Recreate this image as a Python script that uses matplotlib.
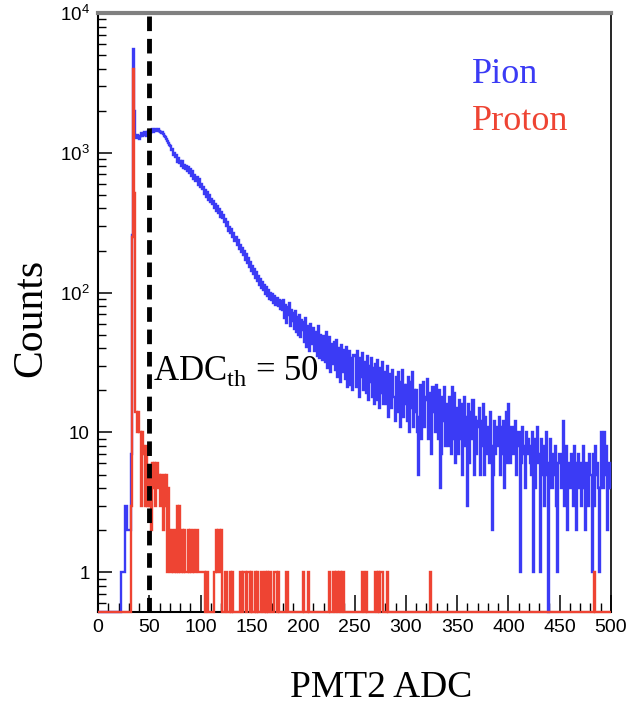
import numpy as np
import matplotlib
matplotlib.use("Agg")
import matplotlib.pyplot as plt
from matplotlib.ticker import MultipleLocator, LogLocator, NullFormatter

# ---------------- data (counts per 1-ADC bin, ADC 0..499) ----------------
pion_counts = [
    0, 0, 0, 0, 0, 0, 0, 0, 0, 0,
    0, 0, 0, 0, 0, 0, 0, 0, 0, 0,
    0, 0, 1, 1, 1, 1, 3, 3, 2, 2,
    2, 2, 7, 260, 5500, 2000, 1300, 1280, 1350, 1300,
    1260, 1330, 1390, 1310, 1350, 1420, 1370, 1330, 1400, 1440,
    1410, 1380, 1450, 1470, 1420, 1460, 1490, 1440, 1470, 1430,
    1420, 1390, 1410, 1360, 1330, 1290, 1260, 1210, 1170, 1130,
    1120, 1040, 1060, 960, 990, 930, 960, 860, 920, 840,
    880, 800, 870, 780, 820, 760, 810, 740, 790, 720,
    760, 680, 740, 650, 690, 630, 670, 590, 650, 570,
    600, 550, 570, 510, 545, 480, 525, 460, 500, 445,
    470, 430, 455, 400, 430, 385, 415, 370, 395, 350,
    380, 340, 360, 320, 335, 300, 320, 275, 295, 265,
    285, 250, 265, 235, 250, 220, 238, 205, 220, 195,
    210, 185, 198, 172, 188, 162, 176, 152, 165, 144,
    155, 136, 148, 127, 140, 121, 132, 114, 125, 108,
    120, 104, 114, 98, 109, 94, 104, 90, 100, 88,
    98, 85, 95, 82, 91, 80, 89, 77, 87, 75,
    88, 66, 82, 61, 79, 69, 84, 58, 75, 63,
    72, 55, 74, 52, 67, 50, 69, 48, 64, 54,
    62, 44, 66, 41, 58, 47, 38, 60, 43, 51,
    56, 38, 52, 35, 58, 34, 50, 39, 33, 49,
    49, 32, 52, 29, 44, 48, 27, 43, 31, 38,
    44, 28, 46, 25, 40, 37, 23, 42, 27, 36,
    39, 24, 41, 21, 35, 38, 22, 34, 20, 36,
    35, 21, 38, 24, 18, 34, 25, 37, 20, 31,
    32, 19, 35, 17, 30, 23, 34, 18, 29, 16,
    31, 17, 33, 21, 15, 29, 19, 32, 16, 27,
    27, 16, 30, 13, 26, 20, 15, 28, 18, 12,
    25, 14, 27, 17, 11, 23, 28, 13, 22, 16,
    22, 12, 25, 10, 23, 15, 27, 11, 20, 14,
    20, 10, 5, 13, 22, 9, 19, 23, 11, 17,
    18, 24, 9, 19, 12, 7, 21, 14, 10, 22,
    17, 9, 20, 4, 7, 18, 12, 21, 8, 14,
    16, 8, 18, 10, 7, 21, 9, 19, 6, 14,
    15, 7, 17, 9, 16, 5, 13, 18, 8, 13,
    3, 16, 6, 14, 9, 17, 5, 13, 7, 12,
    11, 15, 5, 12, 8, 16, 5, 13, 9, 7,
    11, 6, 14, 8, 2, 5, 12, 7, 11, 8,
    10, 13, 5, 11, 7, 12, 4, 9, 14, 6,
    16, 10, 6, 11, 7, 9, 12, 5, 8, 10,
    10, 1, 6, 11, 7, 8, 4, 10, 7, 9,
    8, 6, 5, 10, 1, 9, 4, 7, 11, 6,
    7, 1, 9, 5, 8, 3, 6, 10, 5, 0,
    6, 9, 4, 7, 5, 8, 3, 1, 6, 7,
    7, 4, 6, 12, 3, 5, 8, 2, 6, 5,
    4, 7, 5, 3, 8, 6, 2, 5, 7, 4,
    6, 3, 5, 8, 4, 2, 6, 5, 3, 7,
    5, 1, 7, 3, 8, 5, 6, 4, 1, 4,
    10, 6, 4, 10, 5, 8, 2, 4, 6, 4,
]

# proton: contiguous region starting at ADC 32
proton_low_start = 32
proton_low_counts = [
    3, 250, 4000, 520, 14, 14, 10, 14, 10, 10,      # 32-41
    3, 10, 8, 7, 3, 8, 3, 5, 3, 5,                  # 42-51
    2, 6, 4, 6, 3, 6, 4, 5, 3, 5,                   # 52-61
    4, 2, 5, 3, 5, 1, 4, 2, 1, 1,                   # 62-71
    2, 1, 1, 2, 1, 3, 1, 3, 1, 1,                   # 72-81
    2, 1, 2, 1, 1, 1, 2, 1, 2, 1,                   # 82-91
    1, 2, 1, 1, 2, 1, 1, 1, 1, 1,                   # 92-101
    1, 1, 0, 1, 1,                                  # 102-106
]
# proton: isolated entries further out
proton_high_bins = [113, 114, 115, 116, 117, 118, 119, 120,
                    124, 125, 129, 131, 138, 139, 141, 142, 143,
                    145, 146, 147, 149, 153, 155, 159, 160,
                    163, 165, 167, 168, 172, 173, 175, 183, 184,
                    200, 205, 225, 229, 230, 232, 233, 235, 236,
                    238, 239, 257, 258, 261, 270, 271, 273, 275,
                    276, 277, 282, 324, 483]
proton_high_counts = [1, 1, 2, 1, 2, 2, 1, 2,
                      1, 1, 1, 1, 1, 1, 1, 1, 1,
                      1, 1, 1, 1, 1, 1, 1, 1,
                      1, 1, 1, 1, 1, 1, 1, 1, 1,
                      1, 1, 1, 1, 1, 1, 1, 1, 1,
                      1, 1, 1, 1, 1, 1, 1, 1, 1,
                      1, 1, 1, 1, 1]

threshold = 50
xticks = [0, 50, 100, 150, 200, 250, 300, 350, 400, 450, 500]
yticks = [1, 10, 100, 1000, 10000]
ytick_labels = ["1", "10", r"$\mathsf{10^{2}}$", r"$\mathsf{10^{3}}$", r"$\mathsf{10^{4}}$"]

# ---------------- style ----------------
plt.rcParams["font.family"] = ["Liberation Sans", "DejaVu Sans"]
plt.rcParams["mathtext.fontset"] = "custom"
plt.rcParams["mathtext.rm"] = "Liberation Serif"
plt.rcParams["mathtext.sf"] = "Liberation Sans"

BLUE = "#3b3bf5"
RED = "#ee4433"
SERIF = ["Liberation Serif", "DejaVu Serif"]

W, H = 629, 706
fig = plt.figure(figsize=(W / 100, H / 100), dpi=100)
ax = fig.add_axes([98 / W, 1 - 612 / H, (611 - 98) / W, (612 - 13) / H])

ymin, ymax = 0.52, 1e4
edges = np.arange(0, 501, 1)

pion = np.array(pion_counts, dtype=float)
proton = np.zeros(500)
proton[proton_low_start:proton_low_start + len(proton_low_counts)] = proton_low_counts
proton[np.array(proton_high_bins)] = proton_high_counts

ax.stairs(np.maximum(pion, ymin), edges, baseline=None, color=BLUE,
          lw=1.7, zorder=3, clip_on=False)
ax.stairs(np.maximum(proton, ymin), edges, baseline=None, color=RED,
          lw=1.7, zorder=4, clip_on=False)

ax.axvline(threshold, color="black", lw=3.5, dashes=(3.0, 1.6), zorder=5)

ax.set_yscale("log")
ax.set_xlim(0, 500)
ax.set_ylim(ymin, ymax)

ax.set_xticks(xticks)
ax.set_xticklabels([str(v) for v in xticks])
ax.xaxis.set_minor_locator(MultipleLocator(10))
ax.set_yticks(yticks)
ax.set_yticklabels(ytick_labels)
ax.yaxis.set_minor_locator(LogLocator(base=10, subs=np.arange(2, 10)))
ax.yaxis.set_minor_formatter(NullFormatter())

ax.tick_params(axis="x", which="major", direction="in", length=12, width=1.1,
               labelsize=14, pad=5, top=False)
ax.tick_params(axis="x", which="minor", direction="in", length=6.5, width=1.0, top=False)
ax.tick_params(axis="y", which="major", direction="in", length=10, width=1.1,
               labelsize=13.5, pad=6, right=False)
ax.tick_params(axis="y", which="minor", direction="in", length=5.5, width=1.0, right=False)

for side in ["left", "bottom"]:
    ax.spines[side].set_linewidth(1.5)
    ax.spines[side].set_color("black")
ax.spines["right"].set_linewidth(1.2)
ax.spines["right"].set_color("black")
ax.spines["top"].set_linewidth(3.0)
ax.spines["top"].set_color("#808080")

# ---------------- texts ----------------
fig.text(31 / W, 1 - 318 / H, "Counts", rotation=90, ha="center", va="center",
         fontsize=30, family=SERIF)
fig.text(381 / W, 1 - 697 / H, "PMT2 ADC", ha="center", va="baseline",
         fontsize=27, family=SERIF)
fig.text(153 / W, 1 - 380 / H, r"ADC$_{\mathrm{th}}$ = 50", ha="left", va="baseline",
         fontsize=25, family=SERIF, zorder=6)
fig.text(472 / W, 1 - 83 / H, "Pion", ha="left", va="baseline",
         fontsize=26, family=SERIF, color=BLUE)
fig.text(472 / W, 1 - 130 / H, "Proton", ha="left", va="baseline",
         fontsize=26, family=SERIF, color=RED)

fig.savefig("out.png", dpi=100)
